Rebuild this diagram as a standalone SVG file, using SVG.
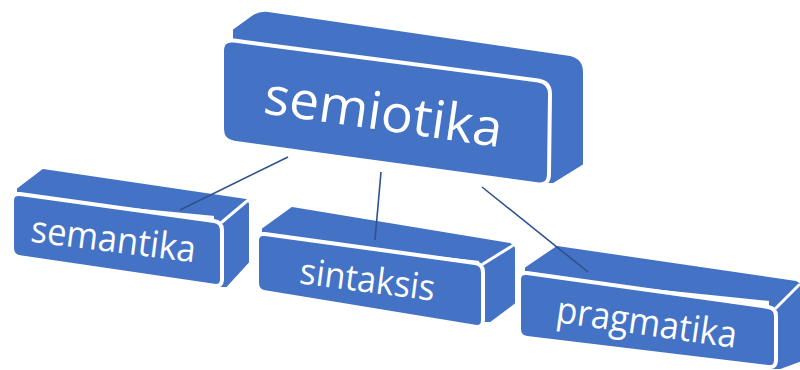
<svg xmlns="http://www.w3.org/2000/svg" width="800" height="370" viewBox="0 0 800 370">
<style>
.back{fill:#4472C4;stroke:#4472C4;stroke-width:2;stroke-linejoin:round}
.front{fill:#4472C4;stroke:#FFFFFF;stroke-width:4;stroke-linejoin:round}
.edge{stroke:#FFFFFF;stroke-width:3;stroke-linecap:round;fill:none}
.lbl{fill:#FFFFFF;font-family:"Open Sans","Noto Sans","Liberation Sans",sans-serif;text-anchor:middle}
.conn line{stroke:#2F528F;stroke-width:1.6}
</style>
<rect width="800" height="370" fill="#FFFFFF"/>
<g id="semiotika">
<path class="back" d="M234,30 L252,17 Q259,12 268,13 L570,57 Q582,60 582,72 L582,164 L553,182 L540,182 L540,80 L234,40 Z"/>
<path class="front" d="M222,51 Q222,39 234,40.6 L538,80.4 Q550,82 550,94 L549,174 Q549,186 537,184.3 L234,142.7 Q222,141 222,129 Z"/>
<text class="lbl" x="381" y="130" font-size="52" textLength="240" lengthAdjust="spacingAndGlyphs" transform="rotate(8.2 381 130)">semiotika</text>
</g>
<g id="semantika">
<path class="back" d="M18,189 L43,170 L246,200 L248,204 L248,262 L226,286 L215,286 L215,215 L18,196 Z"/>
<line class="edge" x1="222" y1="222" x2="247" y2="201"/>
<path class="front" d="M12,201 Q12,193 20,194.1 L214,220.9 Q222,222 222,230 L222,279 Q222,287 214,285.8 L20,257.2 Q12,256 12,248 Z"/>
<text class="lbl" x="112" y="252" font-size="37" textLength="166" lengthAdjust="spacingAndGlyphs" transform="rotate(7.2 112 252)">semantika</text>
</g>
<g id="sintaksis">
<path class="back" d="M263,229 L292,208 L510,244 L514,248 L514,303 L490,321 L480,321 L480,260 L263,236 Z"/>
<line class="edge" x1="483" y1="264" x2="512" y2="246"/>
<path class="front" d="M257,241 Q257,233 265,234.1 L475,262.9 Q483,264 483,272 L483,320 Q483,328 475,326.7 L265,292.3 Q257,291 257,283 Z"/>
<text class="lbl" x="366" y="292" font-size="36" textLength="136" lengthAdjust="spacingAndGlyphs" transform="rotate(7.4 366 292)">sintaksis</text>
</g>
<g id="pragmatika">
<path class="back" d="M526,268 L557,247 L796,282 L802,286 L802,360 L780,368 L770,368 L770,300 L526,275 Z"/>
<line class="edge" x1="776" y1="308" x2="799" y2="285"/>
<path class="front" d="M519,280 Q519,272 527,273.1 L768,306.9 Q776,308 776,316 L776,360 Q776,368 768,367 L527,338 Q519,337 519,329 Z"/>
<text class="lbl" x="645" y="335" font-size="37" textLength="182" lengthAdjust="spacingAndGlyphs" transform="rotate(8.2 645 335)">pragmatika</text>
</g>
<g id="connectors" class="conn">
<line x1="288" y1="157" x2="180" y2="210"/>
<line x1="381" y1="172" x2="375" y2="240"/>
<line x1="482" y1="187" x2="588" y2="272"/>
</g>
</svg>
